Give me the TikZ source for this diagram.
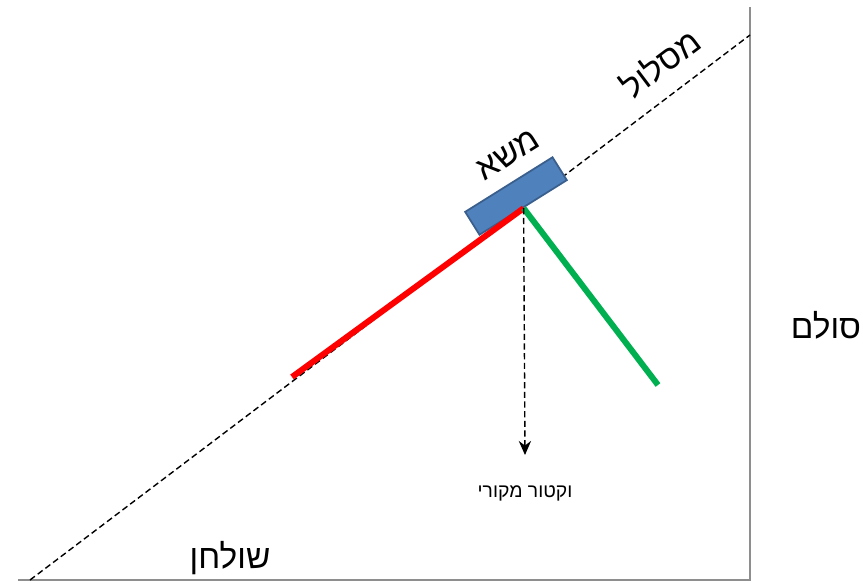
\documentclass[tikz,border=0pt]{standalone}
\usepackage{fontspec}
\newfontfamily\hebfont[Script=Hebrew]{Liberation Sans}
\TeXXeTstate=1
\usetikzlibrary{arrows.meta}
\definecolor{framegray}{HTML}{8E8E8E}
\definecolor{loadblue}{HTML}{4F81BD}
\definecolor{loadedge}{HTML}{3A5F8C}
\definecolor{forcered}{HTML}{FF0000}
\definecolor{forcegreen}{HTML}{00B050}
\begin{document}
\begin{tikzpicture}[x=0.02cm,y=-0.02cm, frame/.style={draw=framegray,line width=1.7pt}, track/.style={draw,dashed,dash pattern=on 3.5pt off 2pt,line width=0.8pt}, force/.style={line width=3.4pt}, label/.style={font=\hebfont\fontsize{19}{23}\selectfont,inner sep=0pt}]
\useasboundingbox (0,0) rectangle (863,585);
\coordinate (corner) at (750,580);
\coordinate (floorL) at (18,580);
\coordinate (wallT) at (750,7);
\coordinate (trackL) at (30,580);
\coordinate (trackR) at (750,35);
\draw[frame] (floorL) -- (corner) -- (wallT);
\draw[track] (trackL) -- (trackR);
\node (load) [rotate=32,draw=loadedge,fill=loadblue,line width=1pt,minimum width=2.06cm,minimum height=0.54cm,inner sep=0pt] at (516,196) {};
\coordinate (contact) at (load.south);
\coordinate (redend) at (292,377);
\coordinate (greenend) at (658,385);
\coordinate (vecend) at (525,455);
\draw[force,forcered] (contact) -- (redend);
\draw[force,forcegreen] (contact) -- (greenend);
\draw[track,-{Stealth[length=8pt,width=7pt]}] (contact) -- (vecend);
\node (loadlabel) [label,rotate=32] at (508,155) {\beginR משא\endR};
\node (tracklabel) [label,rotate=37] at (660,63) {\beginR מסלול\endR};
\node (tablelabel) [label] at (230,558) {\beginR שולחן\endR};
\node (ladderlabel) [label] at (826,325) {\beginR סולם\endR};
\node (veclabel) [label,font=\hebfont\fontsize{11}{13}\selectfont] at (525,493) {\beginR וקטור מקורי\endR};
\end{tikzpicture}
\end{document}
